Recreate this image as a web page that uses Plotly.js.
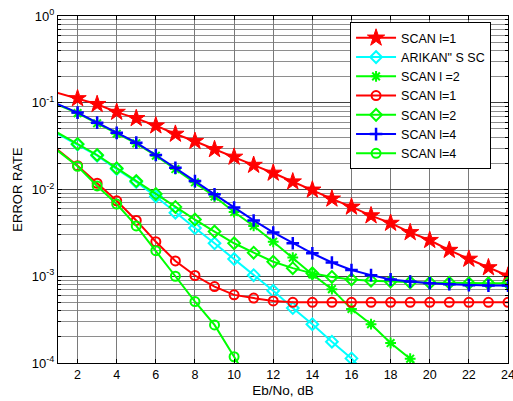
<!DOCTYPE html>
<html><head><meta charset="utf-8">
<script src="https://cdn.plot.ly/plotly-3.0.1.min.js"></script>
<style>html,body{margin:0;padding:0;background:#fff}#chart{width:513px;height:401px}</style>
</head><body><div id="chart"></div>
<script>
// x values (dB); x=0 lies outside the visible range [1,24]
const snr = [0,2,3,4,5,6,7,8,9,10,11,12,13,14,15,16,17,18,19,20,21,22,23,24];
const scanL1Star = [0.15,0.112,0.096,0.078,0.066,0.0544,0.0436,0.036,0.029,0.0237,0.0191,0.0155,0.0123,0.0099,0.0078,0.0063,0.0050,0.0041,0.0032,0.0026,0.0020,0.00158,0.00126,0.00101];
const snrArikan = [0,2,3,4,5,6,7,8,9,10,11,12,13,14,15,16,17];
const arikanSC = [0.058,0.033,0.0245,0.0172,0.0122,0.0083,0.0054,0.0036,0.0024,0.00158,0.00103,0.00068,0.00043,0.00028,0.000176,0.000113,0.000065];
const snrScanL2Plus = [0,2,3,4,5,6,7,8,9,10,11,12,13,14,15,16,17,18,19,20];
const scanL2Plus = [0.118,0.076,0.058,0.044,0.034,0.0245,0.0172,0.0121,0.0083,0.0055,0.0038,0.0025,0.00164,0.00105,0.00071,0.00042,0.00028,0.00017,0.000112,0.00006];
const scanL1Circ = [0.043,0.0188,0.0118,0.0074,0.0044,0.0025,0.0015,0.00102,0.00076,0.00061,0.00056,0.00052,0.0005,0.0005,0.0005,0.0005,0.0005,0.0005,0.0005,0.0005,0.0005,0.0005,0.0005,0.0005];
const scanL2Diam = [0.06,0.0335,0.025,0.0176,0.0125,0.0089,0.0063,0.0045,0.00327,0.0024,0.00187,0.00147,0.00124,0.00108,0.00098,0.00092,0.00089,0.00087,0.00085,0.00084,0.00084,0.00083,0.00083,0.00083];
const scanL4Plus = [0.12,0.077,0.059,0.045,0.0347,0.025,0.0178,0.0125,0.0088,0.0062,0.0044,0.0032,0.0024,0.00184,0.00144,0.00118,0.00103,0.00092,0.00087,0.00083,0.00081,0.00079,0.00078,0.00078];
const snrScanL4Circ = [0,2,3,4,5,6,7,8,9,10,11];
const scanL4Circ = [0.042,0.0185,0.011,0.0068,0.0038,0.00197,0.001,0.00051,0.000275,0.000118,0.00005];
const names = ['SCAN l=1','ARIKAN" S SC','SCAN l =2','SCAN l=1','SCAN l=2','SCAN l=4','SCAN l=4'];
const xTicks = [2,4,6,8,10,12,14,16,18,20,22,24];
const yTickVals = [1e-4,1e-3,1e-2,1e-1,1];
const yTickText = ['10<sup>-4</sup>','10<sup>-3</sup>','10<sup>-2</sup>','10<sup>-1</sup>','10<sup>0</sup>'];

const RED='#ff0000', CYAN='#00ffff', GREEN='#00ff00', BLUE='#0000ff';
function tr(x,y,name,color,symbol,size,mlw){
  return {x:x,y:y,name:name,type:'scatter',mode:'lines+markers',
    line:{color:color,width:2},
    marker:{symbol:symbol,size:size,color:color,line:{color:color,width:mlw}}};
}
const data = [
  tr(snr,scanL1Star,names[0],RED,'star',13,1),
  tr(snrArikan,arikanSC,names[1],CYAN,'diamond-open',9,2),
  tr(snrScanL2Plus,scanL2Plus,names[2],GREEN,'asterisk-open',9,2),
  tr(snr,scanL1Circ,names[3],RED,'circle-open',9,2),
  tr(snr,scanL2Diam,names[4],GREEN,'diamond-open',9,2),
  tr(snr,scanL4Plus,names[5],BLUE,'cross-thin-open',9,2.5),
  tr(snrScanL4Circ,scanL4Circ,names[6],GREEN,'circle-open',9,2)
];
const FF = 'Liberation Sans, Arial, sans-serif';
const layout = {
  width:513, height:401,
  margin:{l:58, r:5, t:16, b:38},
  paper_bgcolor:'#fff', plot_bgcolor:'#fff',
  font:{family:FF, size:13, color:'#000'},
  showlegend:true,
  legend:{x:0.649, y:0.982, xanchor:'left', yanchor:'top', bgcolor:'#fff',
    bordercolor:'#000', borderwidth:1, font:{family:FF,size:12.5,color:'#000'},
    tracegroupgap:0, itemwidth:40},
  xaxis:{range:[1,24.0001], tickvals:xTicks, showline:true, linecolor:'#000', linewidth:1, mirror:'ticks',
    ticks:'inside', ticklen:4, tickcolor:'#000', showgrid:true, gridcolor:'#7a7a7a', gridwidth:1,
    zeroline:false, tickfont:{family:FF,size:12.5}, ticklabeloverflow:'allow',
    title:{text:'Eb/No, dB', font:{family:FF,size:13.5}, standoff:4}},
  yaxis:{type:'log', range:[-4,0], tickmode:'array', tickvals:yTickVals, ticktext:yTickText,
    showline:true, linecolor:'#000', linewidth:1, mirror:'ticks',
    ticks:'inside', ticklen:4, tickcolor:'#000', showgrid:true, gridcolor:'#444', gridwidth:1,
    zeroline:false, tickfont:{family:FF,size:13},
    minor:{dtick:'D1', showgrid:true, gridcolor:'#8e8e8e', gridwidth:1, ticks:'inside', ticklen:3, tickcolor:'#000'},
    title:{text:'ERROR RATE', font:{family:FF,size:13}, standoff:6}}
};
Plotly.newPlot('chart', data, layout, {staticPlot:true});
</script></body></html>
